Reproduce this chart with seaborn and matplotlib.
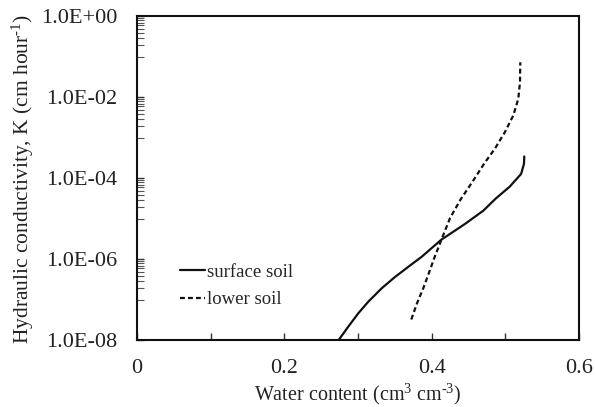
import numpy as np
import pandas as pd
import matplotlib
matplotlib.use("Agg")
import matplotlib.pyplot as plt
import seaborn as sns
from matplotlib.ticker import FixedLocator, NullFormatter

# ---- data ----
surface_theta = [0.2733, 0.2868, 0.3004, 0.3140, 0.3322, 0.3502, 0.3683, 0.3865,
                 0.4133, 0.4450, 0.4700, 0.4870, 0.5060, 0.5215, 0.5253, 0.5257]
surface_K = [1.0e-8, 2.2e-8, 4.7e-8, 9.1e-8, 1.95e-7, 3.7e-7, 6.6e-7, 1.17e-6,
             3.1e-6, 7.5e-6, 1.6e-5, 3.2e-5, 6.3e-5, 1.3e-4, 2.3e-4, 3.5e-4]
lower_theta = [0.3723, 0.3801, 0.3886, 0.3977, 0.4034, 0.4133, 0.4249, 0.4391,
               0.4568, 0.4717, 0.4860, 0.4995, 0.5108, 0.5176, 0.5199, 0.5203]
lower_K = [3.3e-8, 8.3e-8, 1.95e-7, 5.5e-7, 1.07e-6, 3.1e-6, 1.05e-5, 3.0e-5,
           9.1e-5, 2.4e-4, 5.5e-4, 1.41e-3, 3.6e-3, 9.3e-3, 2.4e-2, 7.4e-2]
series_names = ["surface soil", "lower soil"]

x_ticks = [0, 0.2, 0.4, 0.6]
x_tick_labels = ["0", "0.2", "0.4", "0.6"]
x_minor = [0.1, 0.3, 0.5]
y_ticks = [1e-8, 1e-6, 1e-4, 1e-2, 1e0]
y_tick_labels = ["1.0E-08", "1.0E-06", "1.0E-04", "1.0E-02", "1.0E+00"]
y_minor_exps = [-7, -5, -3, -1]
y_minor_mult = [1, 2, 3, 4, 5, 6, 7, 8, 9]

df = pd.concat([
    pd.DataFrame({"theta": surface_theta, "K": surface_K, "soil": series_names[0]}),
    pd.DataFrame({"theta": lower_theta, "K": lower_K, "soil": series_names[1]}),
], ignore_index=True)

sns.set_theme(style="white")
plt.rcParams["font.family"] = ["Liberation Serif", "DejaVu Serif"]
plt.rcParams["mathtext.fontset"] = "custom"
plt.rcParams["mathtext.rm"] = "Liberation Serif"
plt.rcParams["mathtext.it"] = "Liberation Serif:italic"
plt.rcParams["mathtext.bf"] = "Liberation Serif:bold"

fig = plt.figure(figsize=(5.95, 4.07), dpi=100)
ax = fig.add_axes([0.2303, 0.1634, 0.9731 - 0.2303, 0.9595 - 0.1634])

sns.lineplot(data=df, x="theta", y="K", style="soil", hue="soil",
             palette={series_names[0]: "#111111", series_names[1]: "#111111"},
             dashes={series_names[0]: "", series_names[1]: (2.2, 1.4)},
             sort=False, linewidth=1.6, ax=ax, estimator=None)
for ln in ax.get_lines():
    ln.set_solid_joinstyle("round")
    ln.set_dash_joinstyle("round")

ax.set_yscale("log")
ax.set_xlim(0, 0.6)
ax.set_ylim(1e-8, 1e0)

ax.xaxis.set_major_locator(FixedLocator(x_ticks))
ax.set_xticklabels(x_tick_labels)
ax.xaxis.set_minor_locator(FixedLocator(x_minor))
ax.yaxis.set_major_locator(FixedLocator(y_ticks))
ax.set_yticklabels(y_tick_labels)
ax.yaxis.set_minor_locator(FixedLocator([m * 10.0 ** e for e in y_minor_exps for m in y_minor_mult]))
ax.yaxis.set_minor_formatter(NullFormatter())

ax.tick_params(axis="x", which="both", direction="in", length=5, width=1.0,
               color="#333333", pad=13, labelsize=16, bottom=True, top=False)
ax.tick_params(axis="y", which="major", direction="in", length=5, width=1.0,
               color="#333333", pad=14, labelsize=16, left=True, right=False)
ax.tick_params(axis="y", which="minor", direction="in", length=5, width=0.8,
               color="#555555", left=True, right=False)

for s in ax.spines.values():
    s.set_color("#111111")
    s.set_linewidth(1.5)
    s.set_visible(True)

ax.set_xlabel("Water content (cm$^{3}$ cm$^{\\text{-}3}$)", fontsize=14.5, color="#222222")
ax.xaxis.set_label_coords(0.5, -0.128)
ax.set_ylabel("Hydraulic conductivity, K (cm hour$^{\\text{-}1}$)", fontsize=15.5, labelpad=4, color="#222222")
for lab in ax.get_xticklabels() + ax.get_yticklabels():
    lab.set_color("#222222")

ax.legend(title=None, frameon=False, loc="center left",
          bbox_to_anchor=(0.097, 0.1685), borderpad=0, borderaxespad=0,
          handlelength=1.35, handletextpad=0.1, labelspacing=0.55,
          prop={"size": 13.5, "family": "Liberation Serif"})

fig.savefig("out.png", dpi=100)
